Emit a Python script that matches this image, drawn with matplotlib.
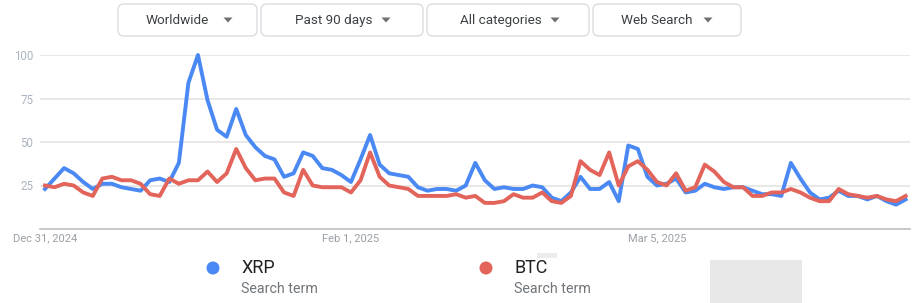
import matplotlib
matplotlib.use("Agg")
import matplotlib.pyplot as plt
import numpy as np
from matplotlib.patches import FancyBboxPatch, Circle, Polygon, Rectangle

plt.rcParams['font.family'] = ['Roboto', 'DejaVu Sans']

# daily interest, Dec 31 2024 .. Mar 31 2025
xrp = [23, 29, 35, 32, 27, 23, 26, 26, 24, 23, 22, 28, 29, 27, 38, 84,
       100, 74, 57, 53, 69, 54, 47, 42, 40, 30, 32, 44, 42, 35, 34,
       31, 27, 40, 54, 37, 32, 31, 30, 24, 22, 23, 23, 22, 25, 38,
       28, 23, 24, 23, 23, 25, 24, 18, 16, 21, 30, 23, 23, 27, 16,
       48, 46, 30, 25, 26, 29, 21, 22, 26, 24, 23, 24, 24, 22, 20,
       20, 19, 38, 29, 21, 17, 18, 22, 19, 19, 17, 19, 16, 14, 17]
btc = [25, 24, 26, 25, 21, 19, 29, 30, 28, 28, 26, 20, 19, 29, 26, 28,
       28, 33, 27, 32, 46, 35, 28, 29, 29, 21, 19, 34, 25, 24, 24,
       24, 21, 28, 44, 30, 25, 24, 23, 19, 19, 19, 19, 20, 18, 19,
       15, 15, 16, 20, 18, 18, 21, 16, 15, 19, 39, 34, 31, 44, 25,
       36, 39, 34, 27, 25, 32, 22, 24, 37, 33, 27, 24, 24, 19, 19,
       21, 21, 23, 21, 18, 16, 16, 23, 20, 19, 18, 19, 17, 16, 19]
series_names = ["XRP", "BTC"]
series_colors = ["#4a89f3", "#e2645a"]
y_ticks = [25, 50, 75, 100]
x_tick_pos = [0, 32, 64]
x_tick_labels = ["Dec 31, 2024", "Feb 1, 2025", "Mar 5, 2025"]
buttons = ["Worldwide", "Past 90 days", "All categories", "Web Search"]

W, H = 917, 303
fig = plt.figure(figsize=(W / 100, H / 100), dpi=100)
fig.patch.set_facecolor("white")

# overlay in pixel coordinates for the non-chart parts
ov = fig.add_axes([0, 0, 1, 1])
ov.set_xlim(0, W)
ov.set_ylim(H, 0)
ov.set_axis_off()

btn_boxes = [(118, 257), (261, 423), (427, 589), (593, 741)]
btn_text_x = [146, 295, 460, 621]
btn_tri_x = [228, 386, 555, 708]
for (x0, x1), label, tx, trx in zip(btn_boxes, buttons, btn_text_x, btn_tri_x):
    ov.add_patch(FancyBboxPatch((x0, 4), x1 - x0, 32,
                                boxstyle="round,pad=0,rounding_size=6",
                                fc="white", ec="#dadce0", lw=1))
    ov.text(tx, 20.5, label, fontsize=9.7, color="#3c4043",
            ha="left", va="center")
    ov.add_patch(Polygon([(trx - 4.5, 17.5), (trx + 4.5, 17.5), (trx, 22.5)],
                         closed=True, fc="#707070", ec="none"))

# legend
leg_x = [213, 486]
for name, col, lx in zip(series_names, series_colors, leg_x):
    ov.add_patch(Circle((lx, 268), 6.5, fc=col, ec="none"))
    ov.text(lx + 28, 268, name, fontsize=13, color="#202124",
            ha="left", va="center")
    ov.text(lx + 28, 289, "Search term", fontsize=10.3, color="#70757a",
            ha="left", va="center")
ov.add_patch(Rectangle((710, 260), 92, 43, fc="#e8e8e8", ec="none"))
ov.add_patch(Rectangle((537, 253), 20, 5, fc="#ececec", ec="none"))

# chart
ax = fig.add_axes([40 / W, (H - 229) / H, 870 / W, 174 / H])
ax.set_facecolor("none")
idx = np.arange(len(xrp))
ax.plot(idx, xrp, color=series_colors[0], lw=2.8, clip_on=False,
        solid_joinstyle="round", zorder=3)
ax.plot(idx, btc, color=series_colors[1], lw=2.8, clip_on=False,
        solid_joinstyle="round", zorder=4)
ax.set_xlim(-0.52, len(xrp) - 1 + 0.46)
ax.set_ylim(0, 100)
ax.set_yticks(y_ticks)
ax.set_yticklabels([str(v) for v in y_ticks])
ax.set_xticks(x_tick_pos)
ax.set_xticklabels(x_tick_labels)
ax.tick_params(axis="y", length=0, pad=5, labelsize=8.3, labelcolor="#aab4bf")
ax.tick_params(axis="x", length=0, pad=3, labelsize=8, labelcolor="#9aa0a6")
ax.yaxis.grid(True, color="#e8e8e8", lw=1.4)
ax.set_axisbelow(True)
for s in ["top", "right", "left"]:
    ax.spines[s].set_visible(False)
ax.spines["bottom"].set_color("#bdbdbd")
ax.spines["bottom"].set_linewidth(1.2)

fig.savefig("out.png", dpi=100, facecolor="white")
